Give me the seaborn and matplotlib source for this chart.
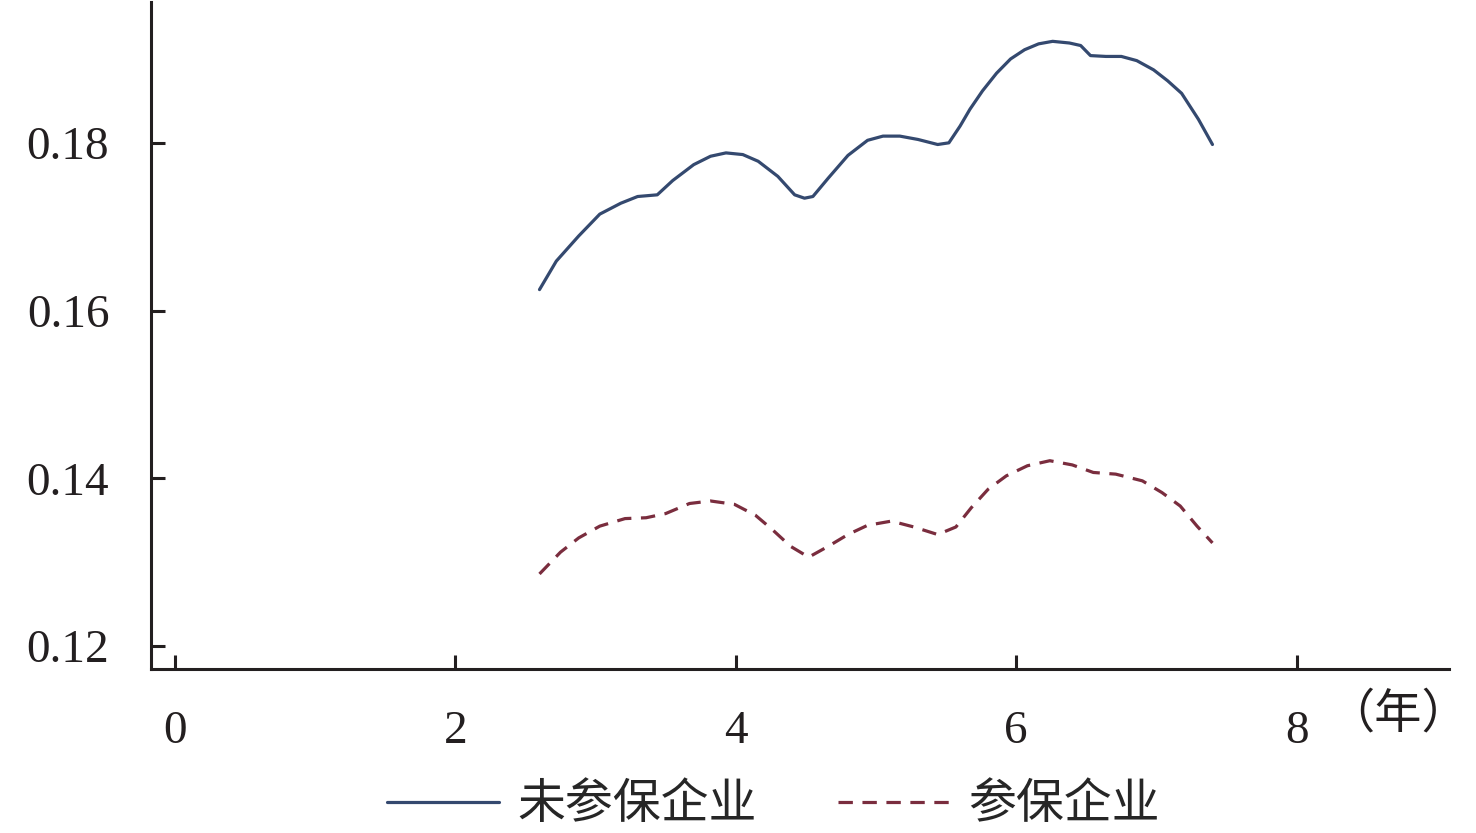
import pandas as pd
import matplotlib.pyplot as plt
import seaborn as sns

# 未参保企业
x_uninsured = [2.60, 2.72, 2.88, 3.03, 3.18, 3.30, 3.44, 3.55, 3.70, 3.82, 3.93, 4.05,
               4.16, 4.30, 4.42, 4.49, 4.55, 4.66, 4.80, 4.94, 5.05, 5.17, 5.30, 5.44,
               5.52, 5.60, 5.67, 5.76, 5.86, 5.96, 6.06, 6.16, 6.26, 6.38, 6.46, 6.53,
               6.64, 6.75, 6.86, 6.98, 7.08, 7.18, 7.30, 7.40]
y_uninsured = [0.1625, 0.1659, 0.1689, 0.1715, 0.1728, 0.1736, 0.1738, 0.1755, 0.1774,
               0.1784, 0.1788, 0.1786, 0.1778, 0.1760, 0.1738, 0.1734, 0.1736, 0.1758,
               0.1785, 0.1803, 0.1808, 0.1808, 0.1804, 0.1798, 0.1800, 0.1820, 0.1840,
               0.1862, 0.1883, 0.1900, 0.1911, 0.1918, 0.1921, 0.1919, 0.1916, 0.1904,
               0.1903, 0.1903, 0.1898, 0.1887, 0.1874, 0.1859, 0.1828, 0.1798]

# 参保企业
x_insured = [2.60, 2.75, 2.88, 3.03, 3.21, 3.36, 3.50, 3.67, 3.82, 3.99, 4.14, 4.26,
             4.39, 4.52, 4.66, 4.80, 4.94, 5.11, 5.27, 5.44, 5.57, 5.68, 5.80, 5.93,
             6.08, 6.24, 6.40, 6.55, 6.71, 6.90, 7.04, 7.17, 7.29, 7.40]
y_insured = [0.1286, 0.1312, 0.1329, 0.1343, 0.1352, 0.1353, 0.1358, 0.1370, 0.1373,
             0.1369, 0.1356, 0.1339, 0.1319, 0.1306, 0.1319, 0.1333, 0.1344, 0.1349,
             0.1342, 0.1333, 0.1342, 0.1365, 0.1387, 0.1403, 0.1415, 0.1421, 0.1416,
             0.1407, 0.1405, 0.1397, 0.1383, 0.1367, 0.1343, 0.1323]

groups = ["未参保企业", "参保企业"]
x_ticks = [0, 2, 4, 6, 8]
y_ticks = [0.12, 0.14, 0.16, 0.18]

df = pd.concat([
    pd.DataFrame({"年": x_uninsured, "值": y_uninsured, "组": groups[0]}),
    pd.DataFrame({"年": x_insured, "值": y_insured, "组": groups[1]}),
])

sns.set_style("ticks")
plt.rcParams["font.family"] = ["Liberation Serif", "Noto Sans CJK SC"]
axis_color = "#231f20"

fig = plt.figure(figsize=(14.76, 8.33), dpi=100)
ax = fig.add_axes([0.1023, 0.1968, 0.8794, 0.8008])

sns.lineplot(data=df, x="年", y="值", hue="组", style="组", hue_order=groups,
             style_order=groups,
             palette={groups[0]: "#34496f", groups[1]: "#7a2d3e"},
             dashes={groups[0]: "", groups[1]: (4.5, 3)},
             linewidth=2.3, ax=ax)

ax.set_xlim(-0.171, 9.087)
ax.set_ylim(0.11726, 0.19679)
ax.set_xticks(x_ticks)
ax.set_yticks(y_ticks)
ax.set_yticklabels([f"{v:.2f}" for v in y_ticks])
ax.set_xlabel("")
ax.set_ylabel("")
for side in ["top", "right"]:
    ax.spines[side].set_visible(False)
for side in ["left", "bottom"]:
    ax.spines[side].set_linewidth(2.2)
    ax.spines[side].set_color(axis_color)
ax.tick_params(axis="both", direction="in", length=10, width=2.2,
               color=axis_color, labelsize=34, labelcolor=axis_color)
ax.tick_params(axis="x", pad=30)
ax.tick_params(axis="y", pad=30)

# 横轴单位
fig.text(0.947, 0.142, "（年）", fontsize=34, color=axis_color,
         family="Noto Sans CJK SC", ha="center", va="center")

handles, labels = ax.get_legend_handles_labels()
ax.get_legend().remove()
fig.legend(handles, labels, loc="center", bbox_to_anchor=(0.524, 0.034), ncol=2,
           frameon=False, handlelength=2.33, handletextpad=0.38, columnspacing=1.7,
           prop={"family": "Noto Sans CJK SC", "size": 34.5})

fig.savefig("out.png", dpi=100)
